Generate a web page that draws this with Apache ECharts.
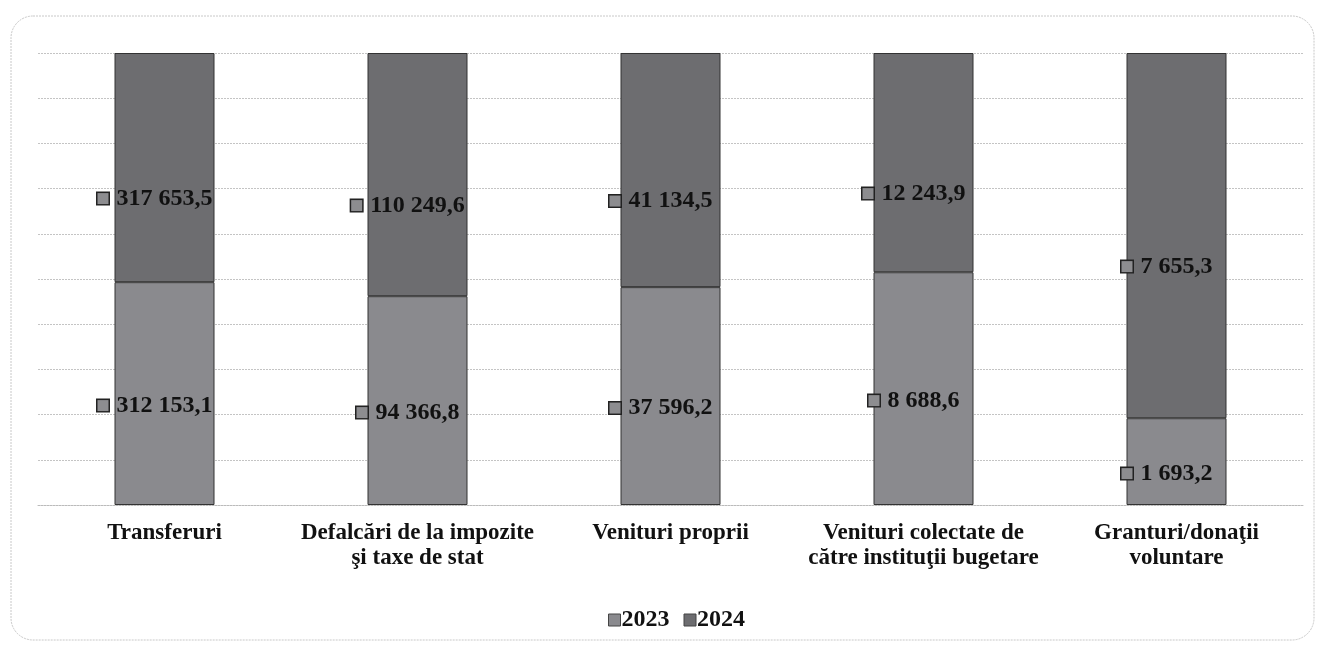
<!DOCTYPE html>
<html>
<head>
<meta charset="utf-8">
<script src="https://cdn.jsdelivr.net/npm/echarts@6/dist/echarts.min.js"></script>
<style>html,body{margin:0;padding:0;background:#fff}#c{width:1325px;height:647px}</style>
</head>
<body>
<div id="c"></div>
<script>
// Categories
const categories = ['Transferuri', 'Defalcări de la impozite\nşi taxe de stat', 'Venituri proprii', 'Venituri colectate de\ncătre instituţii bugetare', 'Granturi/donaţii\nvoluntare'];
// Values shown in labels
const values2023 = [312153.1, 94366.8, 37596.2, 8688.6, 1693.2];
const values2024 = [317653.5, 110249.6, 41134.5, 12243.9, 7655.3];
// Bar shares (%)
const share2023 = [49.3, 46.2, 48.2, 51.5, 19.2];
const share2024 = [50.7, 53.8, 51.8, 48.5, 80.8];
const yTicks = [0, 10, 20, 30, 40, 50, 60, 70, 80, 90, 100];

function fmt(v) {
  const parts = v.toFixed(1).split('.');
  return parts[0].replace(/\B(?=(\d{3})+(?!\d))/g, ' ') + ',' + parts[1];
}

const font = 'Liberation Serif, Times New Roman, serif';
const c2023 = '#8a8a8e';
const c2024 = '#6d6d70';

function labelFor(vals) {
  return {
    show: true,
    position: 'inside',
    formatter: p => '{sq|}{gap|}{t|' + fmt(vals[p.dataIndex]) + '}{gap|}{sp|}',
    rich: {
      sq: { width: 11, height: 11, backgroundColor: '#8d8d90', borderColor: '#222', borderWidth: 1.5 },
      gap: { width: 8, height: 11 },
      sp: { width: 11, height: 11 },
      t: { fontFamily: font, fontWeight: 'bold', fontSize: 24, color: '#111' }
    }
  };
}

const chart = echarts.init(document.getElementById('c'));
chart.setOption({
  backgroundColor: '#fff',
  animation: false,
  graphic: [{
    type: 'rect',
    shape: { x: 11, y: 16, width: 1303, height: 624, r: 22 },
    style: { fill: 'none', stroke: '#c8c8c8', lineWidth: 1, lineDash: [2, 1] },
    silent: true
  }],
  grid: { left: 38, right: 22, top: 53, bottom: 142 },
  legend: {
    top: 603,
    left: 603,
    itemWidth: 12,
    itemHeight: 12,
    itemGap: 14,
    icon: 'rect',
    textStyle: { fontFamily: font, fontWeight: 'bold', fontSize: 24, color: '#111', padding: [0, 0, 0, -4] },
    data: [
      { name: '2023', itemStyle: { color: c2023, borderColor: '#444', borderWidth: 1 } },
      { name: '2024', itemStyle: { color: c2024, borderColor: '#444', borderWidth: 1 } }
    ]
  },
  xAxis: {
    type: 'category',
    data: categories,
    axisTick: { show: false },
    axisLine: { show: true, lineStyle: { color: '#bbb', type: [2, 1] } },
    axisLabel: { fontFamily: font, fontWeight: 'bold', fontSize: 23, color: '#111', margin: 16, lineHeight: 25, interval: 0 }
  },
  yAxis: {
    type: 'value',
    min: yTicks[0],
    max: yTicks[yTicks.length - 1],
    interval: yTicks[1] - yTicks[0],
    axisLabel: { show: false },
    axisLine: { show: false },
    axisTick: { show: false },
    splitLine: { show: true, lineStyle: { color: '#c4c4c4', type: [2, 1], width: 1 } }
  },
  series: [
    {
      name: '2023', type: 'bar', stack: 'a', barWidth: 100,
      data: share2023,
      itemStyle: { color: c2023, borderColor: '#333', borderWidth: 1 },
      label: Object.assign(labelFor(values2023), { offset: [0, 12] })
    },
    {
      name: '2024', type: 'bar', stack: 'a', barWidth: 100,
      data: share2024,
      itemStyle: { color: c2024, borderColor: '#333', borderWidth: 1 },
      label: Object.assign(labelFor(values2024), { offset: [0, 31] })
    }
  ]
});
</script>
</body>
</html>
